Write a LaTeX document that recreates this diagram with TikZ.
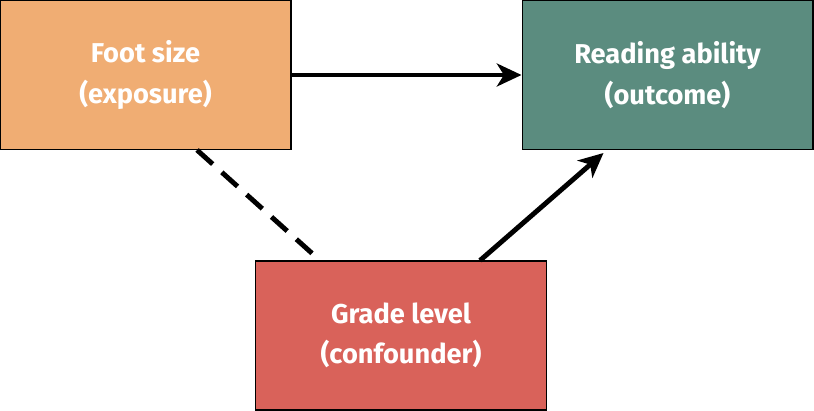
\documentclass[tikz,border=0pt]{standalone}
\usepackage{fontspec}
\setmainfont{Fira Sans}
\usetikzlibrary{positioning, calc, arrows.meta}
\definecolor{footcol}{HTML}{F0AD73}
\definecolor{readcol}{HTML}{5B8C7F}
\definecolor{gradecol}{HTML}{D9625A}

\begin{document}
\begin{tikzpicture}[
		x=0.02cm, y=-0.02cm,
		>={Stealth[length=14pt, width=13pt, inset=4pt]},
		box/.style={draw, line width=0.6pt, rectangle, minimum width=5.82cm, minimum height=2.98cm, align=center, text=white, font=\fontsize{15.5}{23}\selectfont\bfseries},
	]
	\useasboundingbox (0,0) rectangle (814,411);

	\node[box, fill=footcol] (foot) at (145.5,75) {Foot size\\(exposure)};
	\node[box, fill=readcol] (read) at (667.5,75) {Reading ability\\(outcome)};
	\node[box, fill=gradecol] (grade) at (401,335.5) {Grade level\\(confounder)};

	\draw[->, line width=2.8pt] (foot.east) -- (read.west);
	\draw[->, line width=2.8pt] ($(grade.north)+(79,0)$) -- ($(read.south)+(-64,3)$);
	\draw[line width=2.8pt, dash pattern=on 12pt off 7pt] ($(foot.south)+(51.5,0)$) -- ($(grade.north)+(-81,0)$);
\end{tikzpicture}
\end{document}
